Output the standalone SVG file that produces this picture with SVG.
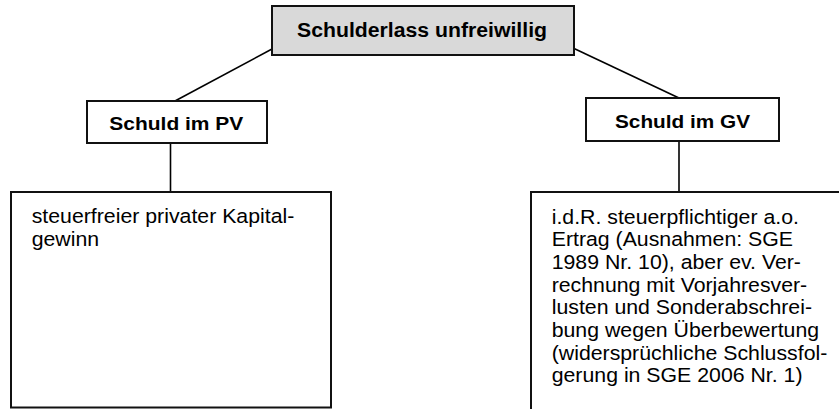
<svg xmlns="http://www.w3.org/2000/svg" width="839" height="409" viewBox="0 0 839 409">
<style>
.box{fill:#fff;stroke:#111;stroke-width:2}
.top{fill:#d9d9d9;stroke:#111;stroke-width:2}
.lbl{font-family:"Liberation Sans",Arial,sans-serif;font-weight:bold;fill:#000;text-anchor:middle}
.body{font-family:"Liberation Sans",Arial,sans-serif;font-size:19.5px;fill:#000}
.conn line{stroke:#000;stroke-width:1.6}
</style>
<rect width="839" height="409" fill="#fff"/>
<g class="conn" id="connectors">
<line x1="272" y1="49" x2="175" y2="101"/>
<line x1="573" y1="48" x2="679" y2="98"/>
<line x1="170.5" y1="143" x2="170.5" y2="192"/>
<line x1="679" y1="141" x2="679" y2="192"/>
</g>
<g id="root">
<rect class="top" x="272" y="6" width="302" height="49"/>
<text class="lbl" x="422" y="37" font-size="20" textLength="250" lengthAdjust="spacingAndGlyphs">Schulderlass unfreiwillig</text>
</g>
<g id="pv">
<rect class="box" x="87" y="101" width="180" height="42"/>
<text class="lbl" x="176.3" y="130" font-size="19" textLength="134" lengthAdjust="spacingAndGlyphs">Schuld im PV</text>
</g>
<g id="gv">
<rect class="box" x="586" y="98" width="193" height="43"/>
<text class="lbl" x="682.5" y="128" font-size="19" textLength="135" lengthAdjust="spacingAndGlyphs">Schuld im GV</text>
</g>
<g id="pv-result">
<rect class="box" x="11" y="192" width="320" height="215.5"/>
<g transform="translate(31.7,0) scale(1.092,1)">
<text class="body"><tspan x="0" y="223.5">steuerfreier privater Kapital-</tspan><tspan x="0" y="246.3">gewinn</tspan></text>
</g>
</g>
<g id="gv-result">
<rect class="box" x="531" y="192" width="400" height="300"/>
<g transform="translate(551.7,0) scale(1.092,1)">
<text class="body"><tspan x="0" y="223.6">i.d.R. steuerpflichtiger a.o.</tspan><tspan x="0" y="246.3">Ertrag (Ausnahmen: SGE</tspan><tspan x="0" y="269">1989 Nr. 10), aber ev. Ver-</tspan><tspan x="0" y="291.7">rechnung mit Vorjahresver-</tspan><tspan x="0" y="314.4">lusten und Sonderabschrei-</tspan><tspan x="0" y="337.1">bung wegen Überbewertung</tspan><tspan x="0" y="359.8">(widersprüchliche Schlussfol-</tspan><tspan x="0" y="382.5">gerung in SGE 2006 Nr. 1)</tspan></text>
</g>
</g>
</svg>
